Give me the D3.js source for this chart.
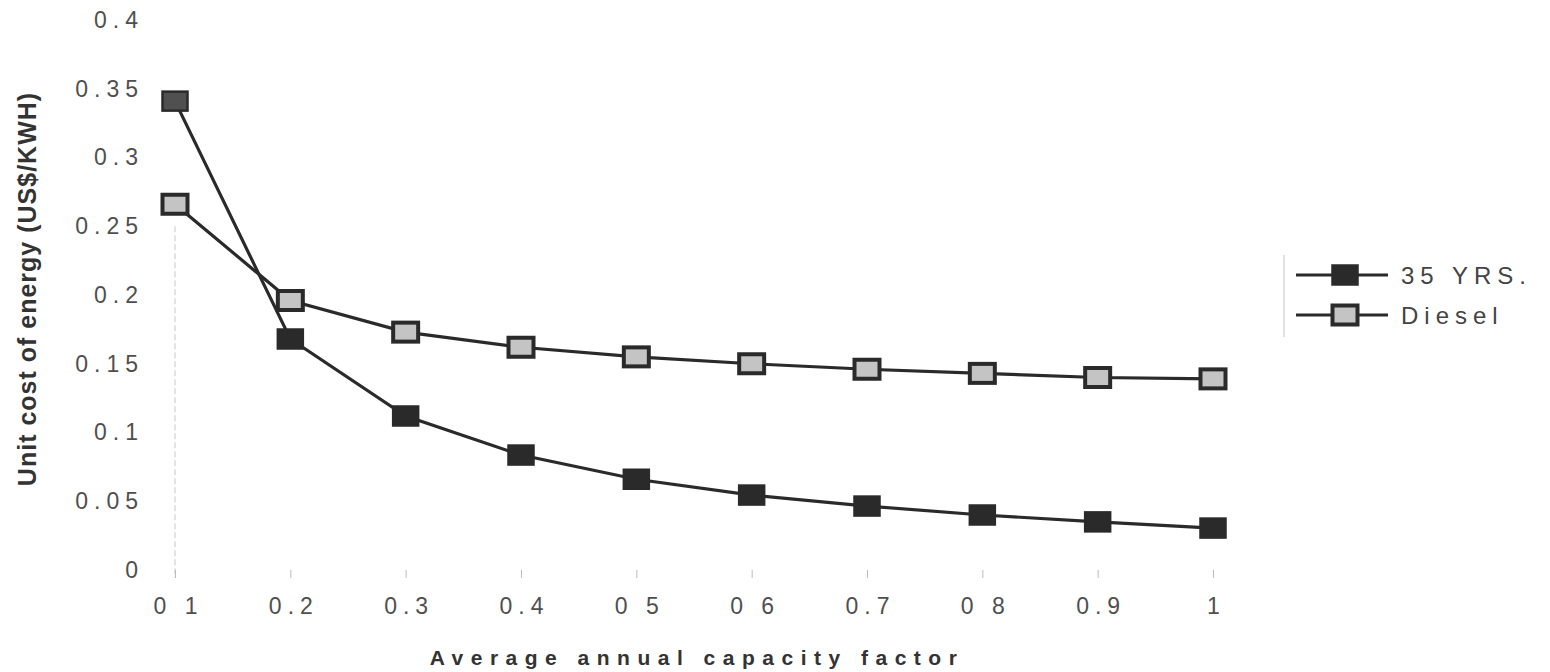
<!DOCTYPE html>
<html>
<head>
<meta charset="utf-8">
<script src="https://cdn.jsdelivr.net/npm/d3@7"></script>
<style>
  body { margin: 0; background: #fff; }
  svg { display: block; font-family: "Liberation Sans", Arial, sans-serif; }
</style>
</head>
<body>
<svg id="chart" width="1550" height="672"></svg>
<script>
// Capacity factor categories and unit costs (US$/kWh)
const capacityFactors = [0.1, 0.2, 0.3, 0.4, 0.5, 0.6, 0.7, 0.8, 0.9, 1.0];
const xTickLabels = ["0 1", "0.2", "0.3", "0.4", "0 5", "0 6", "0.7", "0 8", "0.9", "1"];
const yTickValues = [0, 0.05, 0.1, 0.15, 0.2, 0.25, 0.3, 0.35, 0.4];
const yTickLabels = ["0", "0.05", "0.1", "0.15", "0.2", "0.25", "0.3", "0.35", "0.4"];
const cost35Yrs = [0.341, 0.168, 0.112, 0.0836, 0.066, 0.0545, 0.0465, 0.040, 0.035, 0.0305];
const costDiesel = [0.266, 0.196, 0.173, 0.162, 0.155, 0.150, 0.146, 0.143, 0.140, 0.139];
const seriesNames = ["35 YRS.", "Diesel"];

const svg = d3.select("#chart");

const x = d3.scaleLinear().domain([0.1, 1.0]).range([175, 1213]);
const y = d3.scaleLinear().domain([0, 0.4]).range([570, 20]);

// faint y axis line
svg.append("line")
  .attr("x1", x(0.1)).attr("x2", x(0.1))
  .attr("y1", y(0.25)).attr("y2", y(0) + 8)
  .attr("stroke", "#c8c8c8").attr("stroke-width", 1)
  .attr("stroke-dasharray", "6,3");

// x axis ticks and labels
const xAxis = d3.axisBottom(x)
  .tickValues(capacityFactors)
  .tickSize(8)
  .tickFormat((d, i) => xTickLabels[i]);
const gx = svg.append("g").attr("transform", `translate(0,${y(0)})`).call(xAxis);
gx.select(".domain").remove();
gx.selectAll(".tick line").attr("stroke", "#bbb").attr("y1", 0);
gx.selectAll(".tick text")
  .attr("y", 28)
  .attr("dx", "3px")
  .attr("fill", "#4f4f4f")
  .style("font-size", "23px")
  .style("letter-spacing", "6px");

// y axis labels
const yAxis = d3.axisLeft(y)
  .tickValues(yTickValues)
  .tickSize(0)
  .tickFormat((d, i) => yTickLabels[i]);
const gy = svg.append("g").attr("transform", "translate(144,0)").call(yAxis);
gy.select(".domain").remove();
gy.selectAll(".tick text")
  .attr("x", 0)
  .attr("fill", "#4f4f4f")
  .style("font-size", "23px")
  .style("letter-spacing", "6px");

// axis titles
svg.append("text")
  .attr("transform", "translate(36,289) rotate(-90)")
  .attr("text-anchor", "middle")
  .attr("fill", "#333")
  .style("font-size", "25px")
  .style("font-weight", "bold")
  .style("letter-spacing", "1px")
  .text("Unit cost of energy (US$/KWH)");

svg.append("text")
  .attr("x", 697).attr("y", 665)
  .attr("text-anchor", "middle")
  .attr("fill", "#333")
  .style("font-size", "21px")
  .style("font-weight", "bold")
  .style("letter-spacing", "7.5px")
  .text("Average annual capacity factor");

// series lines
const line = d3.line().x((d, i) => x(capacityFactors[i])).y(d => y(d));
const series = [
  { name: seriesNames[0], values: cost35Yrs, fill: "#2a2a2a", border: 2.5 },
  { name: seriesNames[1], values: costDiesel, fill: "#c4c4c4", border: 4 }
];

series.forEach(s => {
  svg.append("path")
    .datum(s.values)
    .attr("d", line)
    .attr("fill", "none")
    .attr("stroke", "#2a2a2a")
    .attr("stroke-width", 3.2);
});

// square markers
const mw = 25, mh = 19;
series.forEach((s, si) => {
  svg.append("g").selectAll("rect")
    .data(s.values)
    .join("rect")
    .attr("x", (d, i) => x(capacityFactors[i]) - mw / 2)
    .attr("y", d => y(d) - mh / 2)
    .attr("width", mw).attr("height", mh)
    .attr("fill", (d, i) => (si === 0 && i === 0) ? "#505050" : s.fill)
    .attr("stroke", "#2a2a2a")
    .attr("stroke-width", s.border);
});

// legend
const legend = svg.append("g");
legend.append("line")
  .attr("x1", 1284).attr("x2", 1284).attr("y1", 255).attr("y2", 337)
  .attr("stroke", "#e2e2e2").attr("stroke-width", 2);
series.forEach((s, i) => {
  const ly = 275 + i * 40;
  legend.append("line")
    .attr("x1", 1296).attr("x2", 1388).attr("y1", ly).attr("y2", ly)
    .attr("stroke", "#2a2a2a").attr("stroke-width", 3);
  legend.append("rect")
    .attr("x", 1345 - mw / 2).attr("y", ly - mh / 2)
    .attr("width", mw).attr("height", mh)
    .attr("fill", s.fill).attr("stroke", "#2a2a2a")
    .attr("stroke-width", s.border);
  legend.append("text")
    .attr("x", 1401).attr("y", ly + 9)
    .attr("fill", "#444")
    .style("font-size", "24px")
    .style("letter-spacing", "6px")
    .text(s.name);
});
</script>
</body>
</html>
